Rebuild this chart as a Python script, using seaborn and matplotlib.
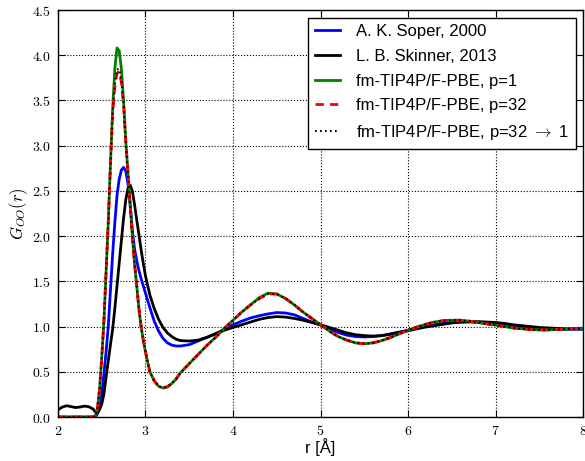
import numpy as np
import pandas as pd
import matplotlib
matplotlib.use("Agg")
import matplotlib.pyplot as plt
import seaborn as sns
from matplotlib.ticker import FuncFormatter, MultipleLocator

# ---------------- data ----------------
r = [2.00, 2.05, 2.10, 2.15, 2.20, 2.25, 2.30, 2.35, 2.40,
     2.425, 2.45, 2.475, 2.50, 2.525, 2.55, 2.575, 2.60, 2.625, 2.65, 2.675,
     2.70, 2.725, 2.75, 2.775, 2.80, 2.825, 2.85, 2.875, 2.90, 2.925, 2.95,
     2.975, 3.00,
     3.05, 3.10, 3.15, 3.20, 3.25, 3.30, 3.35, 3.40,
     3.50, 3.60, 3.70, 3.80, 3.90, 4.00, 4.10, 4.20, 4.30, 4.40,
     4.50, 4.60, 4.70, 4.80, 4.90, 5.00, 5.10, 5.20, 5.30, 5.40,
     5.50, 5.60, 5.70, 5.80, 5.90, 6.00, 6.10, 6.20, 6.30, 6.40,
     6.50, 6.60, 6.70, 6.80, 6.90, 7.00, 7.10, 7.20, 7.30, 7.40,
     7.50, 7.60, 7.70, 7.80, 7.90, 8.00]

soper = [0, 0, 0, 0, 0, 0, 0, 0, 0,
         0.0, 0.03, 0.10, 0.25, 0.47, 0.72, 1.00, 1.40, 1.80, 2.15, 2.45,
         2.63, 2.73, 2.76, 2.72, 2.58, 2.35, 2.07, 1.86, 1.73, 1.62, 1.53,
         1.45, 1.37,
         1.21, 1.06, 0.95, 0.87, 0.82, 0.795, 0.785, 0.785,
         0.80, 0.84, 0.88, 0.92, 0.97, 1.02, 1.06, 1.095, 1.12, 1.14,
         1.155, 1.15, 1.13, 1.09, 1.05, 1.015, 0.975, 0.935, 0.905, 0.89,
         0.885, 0.89, 0.90, 0.92, 0.94, 0.96, 0.98, 1.00, 1.02, 1.035,
         1.045, 1.05, 1.05, 1.045, 1.035, 1.025, 1.01, 1.00, 0.99, 0.985,
         0.98, 0.975, 0.97, 0.97, 0.97, 0.97]

skinner = [0.08, 0.11, 0.125, 0.115, 0.105, 0.11, 0.12, 0.115, 0.09,
           0.06, 0.05, 0.08, 0.14, 0.25, 0.44, 0.62, 0.80, 0.97, 1.20, 1.45,
           1.70, 1.95, 2.20, 2.40, 2.53, 2.565, 2.50, 2.35, 2.18, 2.02, 1.85,
           1.70, 1.56,
           1.35, 1.20, 1.08, 0.99, 0.93, 0.89, 0.86, 0.845,
           0.84, 0.85, 0.88, 0.92, 0.96, 0.99, 1.02, 1.05, 1.08, 1.10,
           1.11, 1.105, 1.09, 1.07, 1.045, 1.02, 0.99, 0.96, 0.93, 0.91,
           0.90, 0.895, 0.90, 0.915, 0.935, 0.955, 0.975, 0.995, 1.01, 1.025,
           1.04, 1.05, 1.055, 1.055, 1.05, 1.045, 1.035, 1.02, 1.01, 1.00,
           0.99, 0.985, 0.98, 0.975, 0.975, 0.975]

p1 = [0, 0, 0, 0, 0, 0, 0, 0, 0,
      0.01, 0.08, 0.30, 0.65, 1.05, 1.60, 2.15, 2.80, 3.40, 3.85, 4.08,
      4.05, 3.85, 3.50, 3.05, 2.70, 2.35, 2.00, 1.70, 1.45, 1.20, 1.00,
      0.85, 0.72,
      0.50, 0.40, 0.34, 0.32, 0.33, 0.37, 0.42, 0.49,
      0.59, 0.69, 0.79, 0.88, 0.98, 1.07, 1.16, 1.24, 1.32, 1.37,
      1.36, 1.31, 1.24, 1.16, 1.09, 1.02, 0.95, 0.89, 0.85, 0.82,
      0.81, 0.82, 0.845, 0.88, 0.92, 0.96, 0.995, 1.025, 1.05, 1.065,
      1.07, 1.07, 1.06, 1.045, 1.03, 1.015, 1.00, 0.985, 0.975, 0.967,
      0.963, 0.963, 0.967, 0.972, 0.976, 0.978]

p32 = [0, 0, 0, 0, 0, 0, 0, 0, 0,
       0.01, 0.08, 0.30, 0.65, 1.05, 1.60, 2.15, 2.78, 3.35, 3.65, 3.80,
       3.82, 3.70, 3.45, 3.05, 2.70, 2.35, 2.00, 1.70, 1.45, 1.20, 1.00,
       0.85, 0.72,
       0.50, 0.40, 0.34, 0.325, 0.335, 0.37, 0.42, 0.49,
       0.59, 0.69, 0.79, 0.88, 0.98, 1.07, 1.16, 1.24, 1.31, 1.36,
       1.36, 1.31, 1.24, 1.16, 1.09, 1.02, 0.95, 0.89, 0.85, 0.82,
       0.81, 0.82, 0.845, 0.88, 0.92, 0.96, 0.995, 1.025, 1.05, 1.065,
       1.07, 1.07, 1.06, 1.045, 1.03, 1.015, 1.00, 0.985, 0.975, 0.967,
       0.963, 0.963, 0.967, 0.972, 0.976, 0.978]

p32to1 = [0, 0, 0, 0, 0, 0, 0, 0, 0,
          0.01, 0.08, 0.30, 0.65, 1.05, 1.60, 2.15, 2.78, 3.36, 3.68, 3.84,
          3.85, 3.72, 3.46, 3.05, 2.70, 2.35, 2.00, 1.70, 1.45, 1.20, 1.00,
          0.85, 0.72,
          0.50, 0.40, 0.34, 0.325, 0.335, 0.37, 0.42, 0.49,
          0.59, 0.69, 0.79, 0.88, 0.98, 1.07, 1.16, 1.24, 1.31, 1.36,
          1.36, 1.31, 1.24, 1.16, 1.09, 1.02, 0.95, 0.89, 0.85, 0.82,
          0.81, 0.82, 0.845, 0.88, 0.92, 0.96, 0.995, 1.025, 1.05, 1.065,
          1.07, 1.07, 1.06, 1.045, 1.03, 1.015, 1.00, 0.985, 0.975, 0.967,
          0.963, 0.963, 0.967, 0.972, 0.976, 0.978]

labels = ["A. K. Soper, 2000", "L. B. Skinner, 2013", "fm-TIP4P/F-PBE, p=1",
          "fm-TIP4P/F-PBE, p=32", r"fm-TIP4P/F-PBE, p=32 $\rightarrow$ 1"]
series = [soper, skinner, p1, p32, p32to1]
colors = ["#0000ff", "#000000", "#008000", "#ff0000", "#000000"]
styles = ["-", "-", "-", (0, (3.0, 2.2)), (0, (0.8, 1.6))]
widths = [2.0, 2.0, 2.0, 2.0, 1.5]

# ---------------- plotting ----------------
plt.rcParams["mathtext.fontset"] = "cm"
plt.rcParams["font.family"] = ["Liberation Sans", "DejaVu Sans"]

fig = plt.figure(figsize=(5.85, 4.61), dpi=100)
ax = fig.add_axes([0.099, 0.0954, 0.898, 0.8829])

for lab, ys, c, ls, lw in zip(labels, series, colors, styles, widths):
    df = pd.DataFrame({"r": r, "g": ys})
    sns.lineplot(data=df, x="r", y="g", ax=ax, color=c, linestyle=ls,
                 linewidth=lw, label=lab, estimator=None, sort=False)

ax.set_xlim(2, 8)
ax.set_ylim(0, 4.5)
ax.xaxis.set_major_locator(MultipleLocator(1))
ax.yaxis.set_major_locator(MultipleLocator(0.5))
ax.xaxis.set_major_formatter(FuncFormatter(lambda v, p: f"${v:.0f}$"))
ax.yaxis.set_major_formatter(FuncFormatter(lambda v, p: f"${v:.1f}$"))
ax.tick_params(direction="in", top=True, right=True, length=5, width=0.8,
               labelsize=10, pad=5, colors="black")
ax.grid(True, color="black", linestyle=":", linewidth=0.8)
for s in ax.spines.values():
    s.set_color("black")
    s.set_linewidth(1.0)

ax.set_xlabel("r [Å]", fontsize=12, labelpad=0)
ax.set_ylabel(r"$G_{OO}(r)$", fontsize=12, labelpad=1)

leg = ax.legend(loc="upper right", fontsize=12, handlelength=1.5,
                labelspacing=0.58, borderaxespad=0.45, fancybox=False,
                framealpha=1, edgecolor="black", handletextpad=1.0,
                borderpad=0.4)
leg.get_frame().set_linewidth(1.0)

fig.savefig("out.png", dpi=100)
